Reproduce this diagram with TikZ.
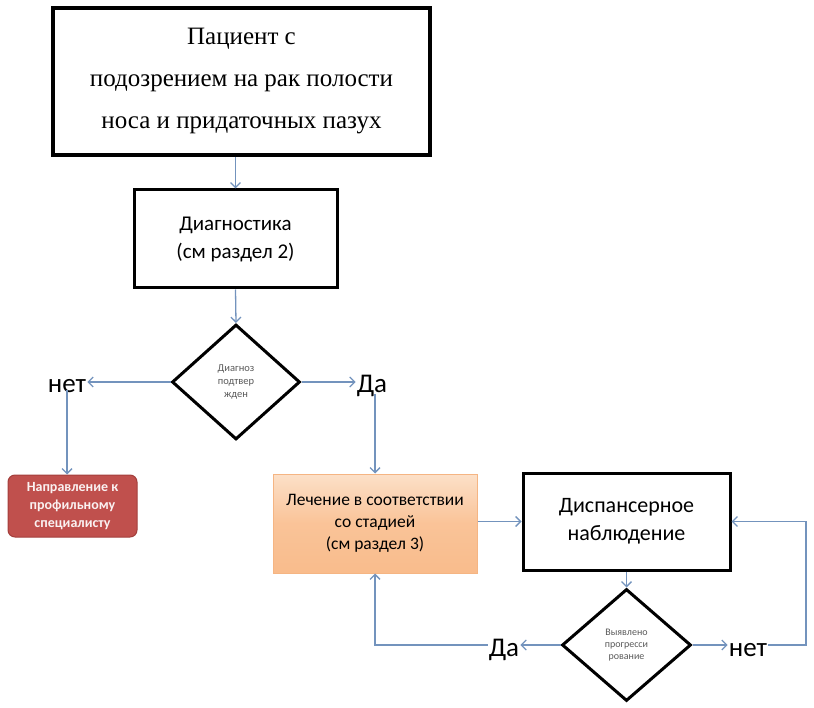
\documentclass[tikz,border=0pt]{standalone}
\usepackage{fontspec}
\setmainfont{Liberation Serif}
\newfontfamily\calib{Carlito}
\usetikzlibrary{shapes.geometric,arrows.meta}
\definecolor{arrowc}{HTML}{7393BD}
\definecolor{redfill}{HTML}{C0504D}
\definecolor{redline}{HTML}{A33F3C}
\definecolor{ortop}{HTML}{FCE0C8}
\definecolor{orbot}{HTML}{F9BC8C}
\definecolor{orline}{HTML}{F5B583}
\begin{document}
\begin{tikzpicture}[x=1pt,y=-1pt,
  conn/.style={draw=arrowc, line width=1.3pt, -{Straight Barb[length=5pt,width=10pt]}},
  bigbox/.style={draw=black, line width=4pt, minimum width=377pt, minimum height=147pt, align=center, inner sep=0pt, font=\fontsize{25}{42}\selectfont},
  blackbox/.style={draw=black, line width=3pt, align=center, inner sep=0pt, font=\calib},
  decision/.style={diamond, draw=black, line width=3pt, inner sep=0pt, align=center, text=black!65},
  answer/.style={inner sep=1pt, font=\calib\fontsize{27}{30}\selectfont},
  redbox/.style={draw=redline, fill=redfill, rounded corners=7pt, line width=1pt, text=white!92!redfill, align=center, minimum width=129pt, minimum height=62pt, inner sep=0pt, font=\calib\bfseries\fontsize{14}{18}\selectfont},
  orbox/.style={draw=orline, top color=ortop, bottom color=orbot, middle color=orbot!80!ortop, line width=1pt, align=center, minimum width=204pt, minimum height=99pt, inner sep=0pt, font=\calib\fontsize{17.5}{22}\selectfont}
]
\useasboundingbox (0,0) rectangle (814,708);

\node[bigbox] (top) at (241.5,81.5) {Пациент с\\подозрением на рак полости\\носа и придаточных пазух};
\node[blackbox, minimum width=203pt, minimum height=98pt, font=\calib\fontsize{21}{28}\selectfont] (diag) at (235.5,239) {Диагностика\\(см раздел 2)};
\node[decision, minimum width=128pt, minimum height=115pt, font=\calib\fontsize{10.5}{13}\selectfont] (d1) at (236,382) {Диагноз\\подтвер\\жден};
\node[answer] (no1) at (67,386) {нет};
\node[answer] (yes1) at (372,386) {Да};
\node[redbox] (red) at (72.5,506) {Направление к\\профильному\\специалисту};
\node[orbox] (treat) at (375,523.5) {Лечение в соответствии\\со стадией\\(см раздел 3)};
\node[blackbox, minimum width=207pt, minimum height=97pt, font=\calib\fontsize{22}{28}\selectfont] (disp) at (626.5,521.5) {Диспансерное\\наблюдение};
\node[decision, minimum width=129pt, minimum height=112pt, font=\calib\fontsize{10}{12}\selectfont] (d2) at (626.5,645) {Выявлено\\прогресси\\рование};
\node[answer] (yes2) at (504,650) {Да};
\node[answer] (no2) at (748,650) {нет};
\coordinate (c1) at (806,645);
\coordinate (c2) at (375,645);

\draw[conn] (diag.north |- top.south) -- (diag.north);
\draw[conn] (diag.south) -- (d1.north);
\draw[conn] (d1.west) -- (d1.west -| no1.east);
\draw[conn] (d1.east) -- (d1.east -| yes1.west);
\draw[conn] ([yshift=4pt]no1.south) -- (red.north -| no1.south);
\draw[conn] ([yshift=4pt]yes1.south -| treat.north) -- (treat.north);
\draw[conn] (treat.east |- disp.west) -- (disp.west);
\draw[conn] (disp.south) -- (d2.north);
\draw[conn] (d2.west) -- (d2.west -| yes2.east);
\draw[conn] (d2.east) -- (d2.east -| no2.west);
\draw[conn] (d2.west -| yes2.west) -- (c2) -- (treat.south);
\draw[conn] (d2.east -| no2.east) -- (c1) |- (disp.east);
\end{tikzpicture}
\end{document}
